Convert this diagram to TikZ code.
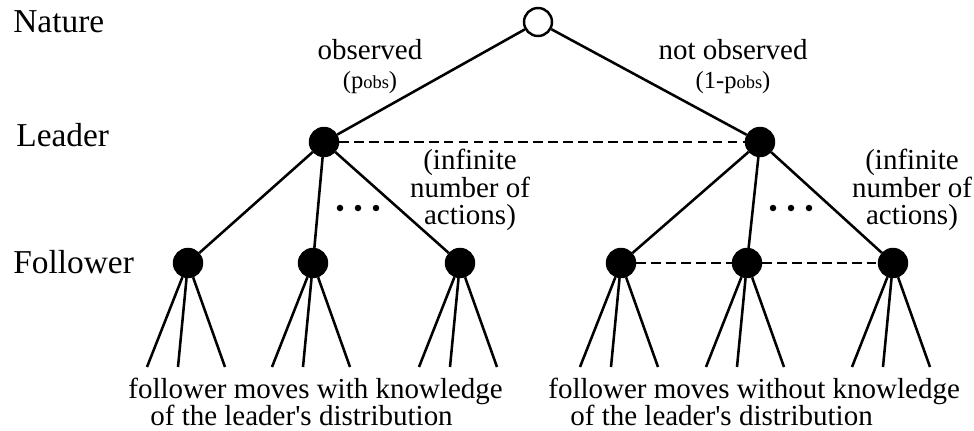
\documentclass[tikz,border=0pt]{standalone}
\usepackage{fontspec}
\setmainfont{Liberation Serif}
\usetikzlibrary{
    positioning,
    calc
}
\newcommand{\pobs}{p{\fontsize{10.5}{10.5}\selectfont obs}}

\begin{document}
\begin{tikzpicture}[
    chance/.style={
        circle,
        draw,
        fill=white,
        minimum size=0.56cm,
        inner sep=0pt,
        line width=1.4pt
    },
    player/.style={
        circle,
        draw,
        fill=black,
        minimum size=0.56cm,
        inner sep=0pt,
        line width=1.4pt
    },
    branch/.style={line width=1.45pt},
    infoset/.style={line width=1.45pt, dash pattern=on 5.5pt off 3pt},
    level/.style={anchor=west, inner sep=0pt, font=\fontsize{19}{19}\selectfont},
    txt/.style={inner sep=0pt, align=center, font=\fontsize{16.5}{15.5}\selectfont},
    dotmark/.style={circle, fill=black, minimum size=0.13cm, inner sep=0pt}
]
\useasboundingbox (0,0) rectangle (19.48,-8.6);

% ============================================================
% NODOS
% ============================================================

% Naturaleza
\node[chance] (nature) at (10.76, -0.44) {};

% Lider
\node[player] (leadl) at (6.48, -2.84) {};
\node[player] (leadr) at (15.2, -2.84) {};

% Seguidor
\node[player] (fl1) at (3.76, -5.26) {};
\node[player] (fl2) at (6.26, -5.26) {};
\node[player] (fl3) at (9.2, -5.26) {};
\node[player] (fr1) at (12.42, -5.26) {};
\node[player] (fr2) at (14.94, -5.26) {};
\node[player] (fr3) at (17.86, -5.26) {};

% ============================================================
% CONEXIONES
% ============================================================

% Naturaleza -> lider
\draw[branch] (nature) -- (leadl);
\draw[branch] (nature) -- (leadr);

% Lider -> seguidor
\draw[branch] (leadl) -- (fl1);
\draw[branch] (leadl) -- (fl2);
\draw[branch] (leadl) -- (fl3);
\draw[branch] (leadr) -- (fr1);
\draw[branch] (leadr) -- (fr2);
\draw[branch] (leadr) -- (fr3);

% Seguidor -> hojas
\foreach \f in {fl1,fl2,fl3,fr1,fr2,fr3} {
    \foreach \dx [count=\i] in {-0.82,-0.2,0.74} {
        \coordinate (\f-\i) at ($(\f)+(\dx,-2.08)$);
        \draw[branch] (\f) -- (\f-\i);
    }
}

% Conjuntos de informacion
\draw[infoset] (leadl) -- (leadr);
\draw[infoset] (fr1) -- (fr2);
\draw[infoset] (fr2) -- (fr3);

% ============================================================
% ETIQUETAS
% ============================================================
\node[level] (lnature) at (0.26, -0.44) {Nature};
\node[level] (lleader) at (0.32, -2.7) {Leader};
\node[level] (lfollow) at (0.26, -5.24) {Follower};

\node[txt] (obs) at (7.4, -1.34)
    {observed\\[1pt]\fontsize{14}{17}\selectfont(\pobs)};
\node[txt] (nobs) at (14.66, -1.34)
    {not observed\\[1pt]\fontsize{14}{17}\selectfont(1-\pobs)};

\node[txt] (infl) at (9.4, -3.8) {(infinite\\number of\\actions)};
\node[txt] (infr) at (18.24, -3.8) {(infinite\\number of\\actions)};

\foreach \dx [count=\i] in {-0.36,0,0.36} {
    \node[dotmark] (dl\i) at ($(7.16,-4.16)+(\dx,0)$) {};
    \node[dotmark] (dr\i) at ($(15.82,-4.16)+(\dx,0)$) {};
}

\node[txt, anchor=west, align=left] (knowl) at (2.56, -8.04)
    {follower moves with knowledge\\\hspace*{0.44cm}of the leader\textquotesingle s distribution};
\node[txt, anchor=west, align=left] (knowr) at (10.96, -8.04)
    {follower moves without knowledge\\\hspace*{0.44cm}of the leader\textquotesingle s distribution};

\end{tikzpicture}
\end{document}
